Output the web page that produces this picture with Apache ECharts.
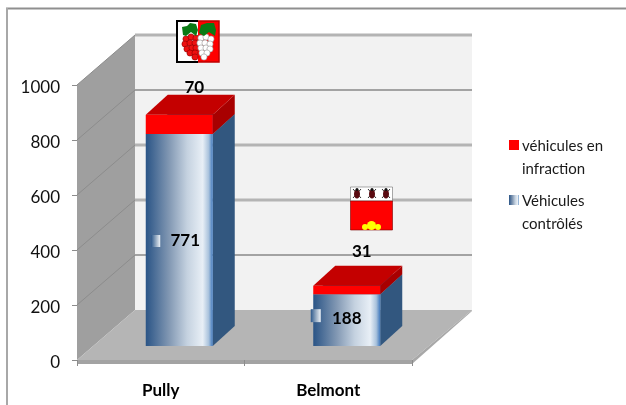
<!DOCTYPE html>
<html><head><meta charset="utf-8">
<style>html,body{margin:0;padding:0;background:#fff}#c{width:626px;height:405px}</style>
<script src="https://cdn.jsdelivr.net/npm/echarts@6/dist/echarts.min.js"></script>
</head><body><div id="c"></div>
<script>
const categories = ['Pully', 'Belmont'];
const controles = [771, 188];
const infractions = [70, 31];
const yTicks = [0, 200, 400, 600, 800, 1000];
const nameInfraction = 'véhicules en\ninfraction';
const nameControle = 'Véhicules\ncontrôlés';

const FONT = 'Lato';
const WALL = {dx: 58, dy: -50}, FLOOR_R = {dx: 60, dy: -50};
const BAR = {ox: 18.5, oy: -14, w: 67, dx: 22, dy: -20};
// hand-placed label offsets, per category
const inLabelShift = [{x: 6, y: 1, kx: -28, ky: 0}, {x: 0, y: -2, kx: -36, ky: -3}];
const topLabelShift = [{x: 15, y: -7}, {x: 15, y: -14}];
const blueGrad = {type:'linear',x:0,y:0,x2:1,y2:0,colorStops:[
  {offset:0,color:'#2a5486'},{offset:.35,color:'#8298b3'},{offset:.62,color:'#c5d2e0'},
  {offset:.85,color:'#e8eff6'},{offset:.94,color:'#a9c2dc'},{offset:1,color:'#3f78bd'}]};
const keyGrad = {type:'linear',x:0,y:0,x2:1,y2:0,colorStops:[
  {offset:0,color:'#2f5a8c'},{offset:.6,color:'#a5b7cb'},{offset:1,color:'#eef3f8'}]};

function poly(points, fill, z2){ return {type:'polygon',z2:z2||0,shape:{points},style:{fill}}; }
function ln(x1,y1,x2,y2,stroke,lineWidth,z2){ return {type:'line',z2:z2||1,shape:{x1,y1,x2,y2},style:{stroke,lineWidth}}; }

function renderBox(params, api){
  const cs = params.coordSys;
  const v = api.value(1);
  const x0 = cs.x, xr = cs.x + cs.width, y0 = cs.y + cs.height;
  const ch = [];
  if (params.dataIndex === 0){
    const bx = x0 + WALL.dx, by = y0 + WALL.dy, tx = cs.y + WALL.dy;
    const rx = xr + FLOOR_R.dx;
    ch.push(poly([[bx,tx],[rx,tx],[rx,by],[bx,by]],'#f2f2f2',0));
    ch.push(poly([[x0,y0],[bx,by],[bx,tx],[x0,cs.y]],'#9f9f9f',1));
    ch.push(poly([[x0,y0],[bx,by],[rx,by],[xr,y0]],'#b5b5b5',1));
    ch.push(poly([[x0,y0],[xr,y0],[xr,y0+4],[x0,y0+4]],'#a3a3a3',2));
    ch.push(poly([[xr,y0],[rx,by],[rx,by+1],[xr,y0+4]],'#a8a8a8',2));
  }
  if (v > 0){
    const y = api.coord([0,v])[1];
    const bx = x0 + WALL.dx, rx = xr + FLOOR_R.dx;
    const heavy = v === 1000 || v === 600 || v === 400;
    ch.push(ln(bx,y+WALL.dy,rx,y+WALL.dy, heavy ? '#b4b4b4' : '#888888', heavy ? 3 : 1.6, 1));
    ch.push(ln(x0,y,bx,y+WALL.dy,'#8c8c8c',1,2));
  }
  return {type:'group',children:ch};
}

function renderBar(front, side, top, inside){
  return function(params, api){
    const i = params.dataIndex;
    const c = api.coord([api.value(0), api.value(2)]);
    const b = api.coord([api.value(0), api.value(1)]);
    const xl = c[0] + BAR.ox - BAR.w/2, xr = xl + BAR.w;
    const yt = c[1] + BAR.oy, yb = b[1] + BAR.oy;
    const d = BAR.dx, e = BAR.dy;
    const ch = [
      poly([[xr,yb],[xr+d,yb+e],[xr+d,yt+e],[xr,yt]],side),
      {type:'rect',shape:{x:xl,y:yt,width:BAR.w,height:yb-yt},style:{fill:front}},
      poly([[xl,yt],[xl+d,yt+e],[xr+d,yt+e],[xr,yt]],top)
    ];
    const val = api.value(3);
    const mid = (xl + xr)/2;
    let lx, ly;
    if (inside){
      const s = inLabelShift[i];
      lx = mid + s.x; ly = (yt + yb)/2 + s.y;
      ch.push({type:'rect',z2:19,shape:{x:mid+s.kx,y:(yt+yb)/2+s.y-(i?8:8)+s.ky+2,width:i?10:9,height:i?13:12},style:{fill:keyGrad}});
    } else {
      const s = topLabelShift[i];
      lx = mid + s.x; ly = yt + e + s.y;
    }
    ch.push({type:'text',z2:20,style:{text:String(val),x:lx,y:ly,align:'center',verticalAlign:'middle',
      font:'bold 17px '+FONT,fill:'#000'}});
    return {type:'group',children:ch};
  };
}

const chart = echarts.init(document.getElementById('c'), null, {renderer:'canvas'});

const pullyGrapes = {
  red: [[186,39],[191,37],[196,38],[185,44],[190,43],[195,43],[187,49],[192,48],[196,48],[190,53],[195,53],[195,57]],
  white: [[201,38],[206,37],[211,39],[200,43],[205,43],[210,44],[201,48],[206,48],[210,49],[202,53],[207,53],[204,57]]
};
const beetleX = [357, 372, 386];
const yellow = [[365,227,3],[371.5,225.5,4.5],[378,227,3]];

const graphic = [
  {type:'line',shape:{x1:6,y1:8.5,x2:626,y2:8.5},style:{stroke:'#8f8f8f',lineWidth:2},z:0},
  {type:'line',shape:{x1:7,y1:8,x2:7,y2:405},style:{stroke:'#a8a8a8',lineWidth:2},z:0},
  // Pully coat of arms
  {type:'rect',z:10,shape:{x:177,y:21,width:21,height:41},style:{fill:'#fff'}},
  {type:'rect',z:10,shape:{x:198,y:21,width:21,height:41},style:{fill:'#ff0000'}},
  {type:'polyline',z:11,shape:{points:[[198,21],[177,21],[177,62],[198,62]]},style:{stroke:'#000',lineWidth:2,fill:'none'}},
  {type:'polyline',z:11,shape:{points:[[198,21],[219,21],[219,62],[198,62]]},style:{stroke:'#c00000',lineWidth:1.5,fill:'none'}},
  ...pullyGrapes.red.map(p=>({type:'circle',z:12,shape:{cx:p[0],cy:p[1],r:3.1},style:{fill:'#ee1111',stroke:'#8c0000',lineWidth:.6}})),
  ...pullyGrapes.white.map(p=>({type:'circle',z:12,shape:{cx:p[0],cy:p[1],r:3.1},style:{fill:'#fff',stroke:'#999',lineWidth:.6}})),
  {type:'polygon',z:13,shape:{points:[[183,35],[182,27],[187,26],[190,23],[196,24],[198,30],[196,36],[191,32],[186,36]]},style:{fill:'#0a7a14'}},
  {type:'polygon',z:13,shape:{points:[[199,33],[201,25],[207,23],[214,23],[216,30],[215,36],[209,32],[204,36]]},style:{fill:'#0a7a14'}},
  // Belmont coat of arms
  {type:'rect',z:10,shape:{x:350.5,y:187,width:42,height:14},style:{fill:'#fff',stroke:'#555',lineWidth:.5}},
  {type:'rect',z:10,shape:{x:350.5,y:201,width:42,height:29},style:{fill:'#ff0000',stroke:'#7a0000',lineWidth:.6}},
  ...beetleX.flatMap(x=>[
    {type:'line',z:11,shape:{x1:x-4,y1:189,x2:x+4,y2:198},style:{stroke:'#333',lineWidth:1}},
    {type:'line',z:11,shape:{x1:x+4,y1:189,x2:x-4,y2:198},style:{stroke:'#333',lineWidth:1}},
    {type:'ellipse',z:12,shape:{cx:x,cy:194,rx:3,ry:4.5},style:{fill:'#5a0a10'}},
    {type:'circle',z:12,shape:{cx:x,cy:189.5,r:1.5},style:{fill:'#111'}}
  ]),
  ...yellow.map(p=>({type:'circle',z:12,shape:{cx:p[0],cy:p[1],r:p[2]},style:{fill:'#ffff00'}}))
];

const icon = 'path://M0 0H10V10H0Z M0 0M0 36';

chart.setOption({
  animation:false,
  backgroundColor:'#fff',
  grid:{left:77,top:85,width:335,height:275,containLabel:false},
  graphic,
  legend:{
    orient:'vertical',left:509,top:135,padding:0,itemWidth:10,itemHeight:36,itemGap:9,
    selectedMode:false,
    data:[{name:nameInfraction,icon},{name:nameControle,icon}],
    textStyle:{fontFamily:FONT,fontSize:15,lineHeight:23,color:'#1a1a1a',padding:[0,0,0,-2]},
  },
  xAxis:{type:'category',data:categories,z:5,
    axisLine:{show:true,lineStyle:{color:'#a3a3a3',width:1}},
    axisTick:{show:true,length:6,lineStyle:{color:'#8c8c8c'}},
    axisLabel:{fontFamily:FONT,fontWeight:'bold',fontSize:17,color:'#000',margin:22}},
  yAxis:{type:'value',min:0,max:1000,interval:200,z:5,
    axisLine:{show:false},
    axisTick:{show:true,length:5,lineStyle:{color:'#8c8c8c'}},
    splitLine:{show:false},
    axisLabel:{margin:17,formatter:v=>'{a|'+v+'}',
      rich:{a:{fontFamily:FONT,fontSize:17,color:'#111',lineHeight:20,padding:[5,0,0,0]}}}},
  series:[
    {type:'custom',name:'cadre',silent:true,z:1,renderItem:renderBox,
      data:yTicks.map((t,i)=>[i,t]),encode:{x:0,y:1}},
    {type:'custom',name:nameControle,z:3,itemStyle:{color:blueGrad},
      renderItem:renderBar(blueGrad,'#32577f','#32577f',true),
      encode:{x:0,y:[1,2]},
      data:controles.map((v,i)=>[i,0,v,v])},
    {type:'custom',name:nameInfraction,z:4,itemStyle:{color:'#ff0000'},
      renderItem:renderBar('#ff0000','#a80000','#c40000',false),
      encode:{x:0,y:[1,2]},
      data:infractions.map((v,i)=>[i,controles[i],controles[i]+v,v])}
  ]
});
</script></body></html>
